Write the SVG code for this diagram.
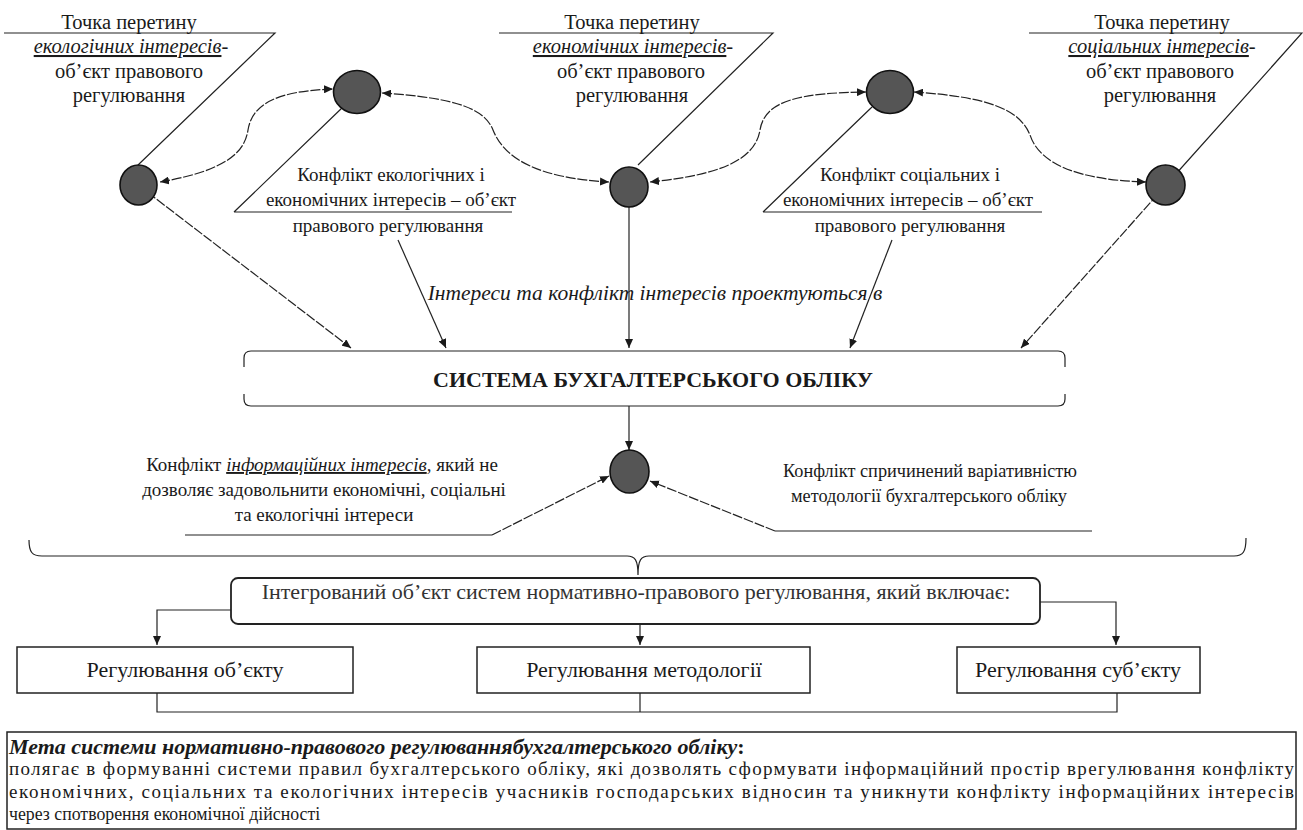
<svg xmlns="http://www.w3.org/2000/svg" width="1303" height="830" viewBox="0 0 1303 830" font-family="'Liberation Serif', Tinos, 'Times New Roman', 'DejaVu Serif', serif">
<defs>
<marker id="arr" viewBox="0 0 10 10" refX="10" refY="5" markerWidth="9" markerHeight="8" markerUnits="userSpaceOnUse" orient="auto-start-reverse" preserveAspectRatio="none">
<path d="M0,0 L10,5 L0,10 z" fill="#1a1a1a"/>
</marker>
<style>
text{font-family:'Liberation Serif', Tinos, 'Times New Roman', 'DejaVu Serif', serif;fill:#1a1a1a;}
.t{font-size:19px;text-anchor:middle;}
.top{font-size:20.5px;}
.rb{font-size:22px;}
.i{font-style:italic;}
.u{text-decoration:underline;}
.b{font-weight:bold;}
.ln{fill:none;stroke:#222;stroke-width:1.2;}
.ds{stroke-dasharray:10 1.8;}
.node{fill:#555;stroke:#111;stroke-width:1.6;}
.box{fill:#fff;stroke:#222;stroke-width:1.5;}
</style>
</defs>
<rect width="1303" height="830" fill="#fff"/>

<g id="connectors">
<path class="ln" d="M4,33 H275 L138,165"/>
<path class="ln" d="M499,33 H773 L638,165"/>
<path class="ln" d="M1029,33 H1302 L1166,185"/>
<path class="ln ds" d="M1166,185 L1021,348" marker-end="url(#arr)"/>
<path class="ln ds" d="M138,185 L351,348" marker-end="url(#arr)"/>
<path class="ln" d="M398,240 L446,348" marker-end="url(#arr)"/>
<path class="ln" d="M629,207 V348" marker-end="url(#arr)"/>
<path class="ln" d="M892,240 L850,348" marker-end="url(#arr)"/>
<path class="ln ds" d="M160,182 C230,170 245,150 248,130 C252,105 275,91 333,89" marker-start="url(#arr)" marker-end="url(#arr)"/>
<path class="ln ds" d="M382,93 C460,98 485,110 493,130 C505,160 540,178 609,182" marker-start="url(#arr)" marker-end="url(#arr)"/>
<path class="ln ds" d="M650,182 C720,175 755,160 760,130 C765,100 800,93 866,92" marker-start="url(#arr)" marker-end="url(#arr)"/>
<path class="ln ds" d="M914,92 C990,97 1020,110 1030,135 C1040,165 1080,180 1146,182" marker-start="url(#arr)" marker-end="url(#arr)"/>
<path class="ln" d="M629,406 V450" marker-end="url(#arr)"/>
<path class="ln ds" d="M492,535 L609,476" marker-end="url(#arr)"/>
<path class="ln ds" d="M775,531 L650,481" marker-end="url(#arr)"/>
<path class="ln" d="M29,540 C29,552 32,556 42,556 L627,556 C635,556 638,560 638,575 C638,560 641,556 649,556 L1234,556 C1243,556 1246,552 1246,538"/>
<path class="ln" d="M231,610 H157 V645" marker-end="url(#arr)"/>
<path class="ln" d="M640,624 V645" marker-end="url(#arr)"/>
<path class="ln" d="M1040,602 H1116 V645" marker-end="url(#arr)"/>
<path class="ln" d="M157,693 V712 H1117 V693 M640,693 V712"/>
</g>

<g id="label-eco">
<text class="t top" x="129" y="29">Точка перетину</text>
<text class="t top" x="131" y="53"><tspan class="i u">екологічних інтересів</tspan><tspan class="i">-</tspan></text>
<text class="t top" x="129" y="78">об’єкт правового</text>
<text class="t top" x="129" y="102">регулювання</text>
</g>
<g id="label-econ">
<text class="t top" x="632" y="29">Точка перетину</text>
<text class="t top" x="633" y="53"><tspan class="i u">економічних інтересів</tspan><tspan class="i">-</tspan></text>
<text class="t top" x="631" y="78">об’єкт правового</text>
<text class="t top" x="632" y="102">регулювання</text>
</g>
<g id="label-soc">
<text class="t top" x="1162" y="29">Точка перетину</text>
<text class="t top" x="1162" y="53"><tspan class="i u">соціальних інтересів</tspan><tspan class="i">-</tspan></text>
<text class="t top" x="1160" y="78">об’єкт правового</text>
<text class="t top" x="1160" y="102">регулювання</text>
</g>

<g id="conflict-eco-econ">
<text class="t" x="391" y="181">Конфлікт екологічних і</text>
<text class="t" x="391" y="206">економічних інтересів – об’єкт</text>
<text class="t" x="388" y="232">правового регулювання</text>
<path class="ln" d="M234,212 H512 M234,212 L343,107"/>
</g>
<g id="conflict-soc-econ">
<text class="t" x="910" y="181">Конфлікт соціальних і</text>
<text class="t" x="908" y="206">економічних інтересів – об’єкт</text>
<text class="t" x="910" y="232">правового регулювання</text>
<path class="ln" d="M763,212 H1042 M763,212 L872,107"/>
</g>

<g id="projection-label">
<text class="t i" x="655" y="300" style="font-size:21.5px">Інтереси та конфлікт інтересів проектуються в</text>
</g>

<g id="node-eco"><ellipse class="node" cx="138.5" cy="185" rx="18.5" ry="20"/></g>
<g id="node-eco-econ"><ellipse class="node" cx="357" cy="92" rx="23.5" ry="21.5"/></g>
<g id="node-econ"><ellipse class="node" cx="629" cy="187" rx="19" ry="20"/></g>
<g id="node-soc-econ"><ellipse class="node" cx="890" cy="92" rx="23.5" ry="21.5"/></g>
<g id="node-soc"><ellipse class="node" cx="1165.5" cy="185" rx="19.5" ry="20"/></g>

<g id="accounting-system">
<path class="ln" d="M244,367 V358 Q244,351 251,351 H1058 Q1065,351 1065,358 V367 M244,394 V399 Q244,406 251,406 H1058 Q1065,406 1065,399 V394"/>
<text class="t b" x="653" y="387" style="font-size:22px">СИСТЕМА БУХГАЛТЕРСЬКОГО ОБЛІКУ</text>
</g>

<g id="node-info"><ellipse class="node" cx="629.5" cy="471.5" rx="19.5" ry="21.5"/></g>

<g id="conflict-info">
<text class="t" x="322" y="471">Конфлікт <tspan class="i u">інформаційних інтересів</tspan>, який не</text>
<text class="t" x="324" y="496">дозволяє задовольнити економічні, соціальні</text>
<text class="t" x="324" y="521">та екологічні інтереси</text>
<path class="ln" d="M185,535 H492"/>
</g>
<g id="conflict-method">
<text class="t" x="930" y="477" style="font-size:18.3px">Конфлікт спричинений варіативністю</text>
<text class="t" x="929" y="502" style="font-size:18.3px">методології бухгалтерського обліку</text>
<path class="ln" d="M775,531 H1092"/>
</g>

<g id="integrated-object">
<rect class="box" x="231" y="578" width="809" height="46" rx="7" style="stroke-width:1.8"/>
<text class="t rb" x="636" y="599" style="fill:#333">Інтегрований об’єкт систем нормативно-правового регулювання, який включає:</text>
</g>

<g id="reg-object">
<rect class="box" x="17" y="647" width="336" height="46"/>
<text class="t rb" x="185" y="677">Регулювання об’єкту</text>
</g>
<g id="reg-method">
<rect class="box" x="477" y="647" width="333" height="46"/>
<text class="t rb" x="644" y="677">Регулювання методології</text>
</g>
<g id="reg-subject">
<rect class="box" x="957" y="647" width="243" height="46"/>
<text class="t rb" x="1078" y="677">Регулювання суб’єкту</text>
</g>

<g id="goal">
<rect class="box" x="7" y="732" width="1289" height="97"/>
<text x="9" y="754" style="font-size:22px"><tspan class="b i">Мета системи нормативно-правового регулюваннябухгалтерського обліку</tspan><tspan class="b">:</tspan></text>
<text x="9" y="775" style="font-size:19px" textLength="1285" lengthAdjust="spacing">полягає в формуванні системи правил бухгалтерського обліку, які дозволять сформувати інформаційний простір врегулювання конфлікту</text>
<text x="9" y="798" style="font-size:19px" textLength="1285" lengthAdjust="spacing">економічних, соціальних та екологічних інтересів учасників господарських відносин та уникнути конфлікту інформаційних інтересів</text>
<text x="9" y="820" style="font-size:17.8px">через спотворення економічної дійсності</text>
</g>
</svg>
